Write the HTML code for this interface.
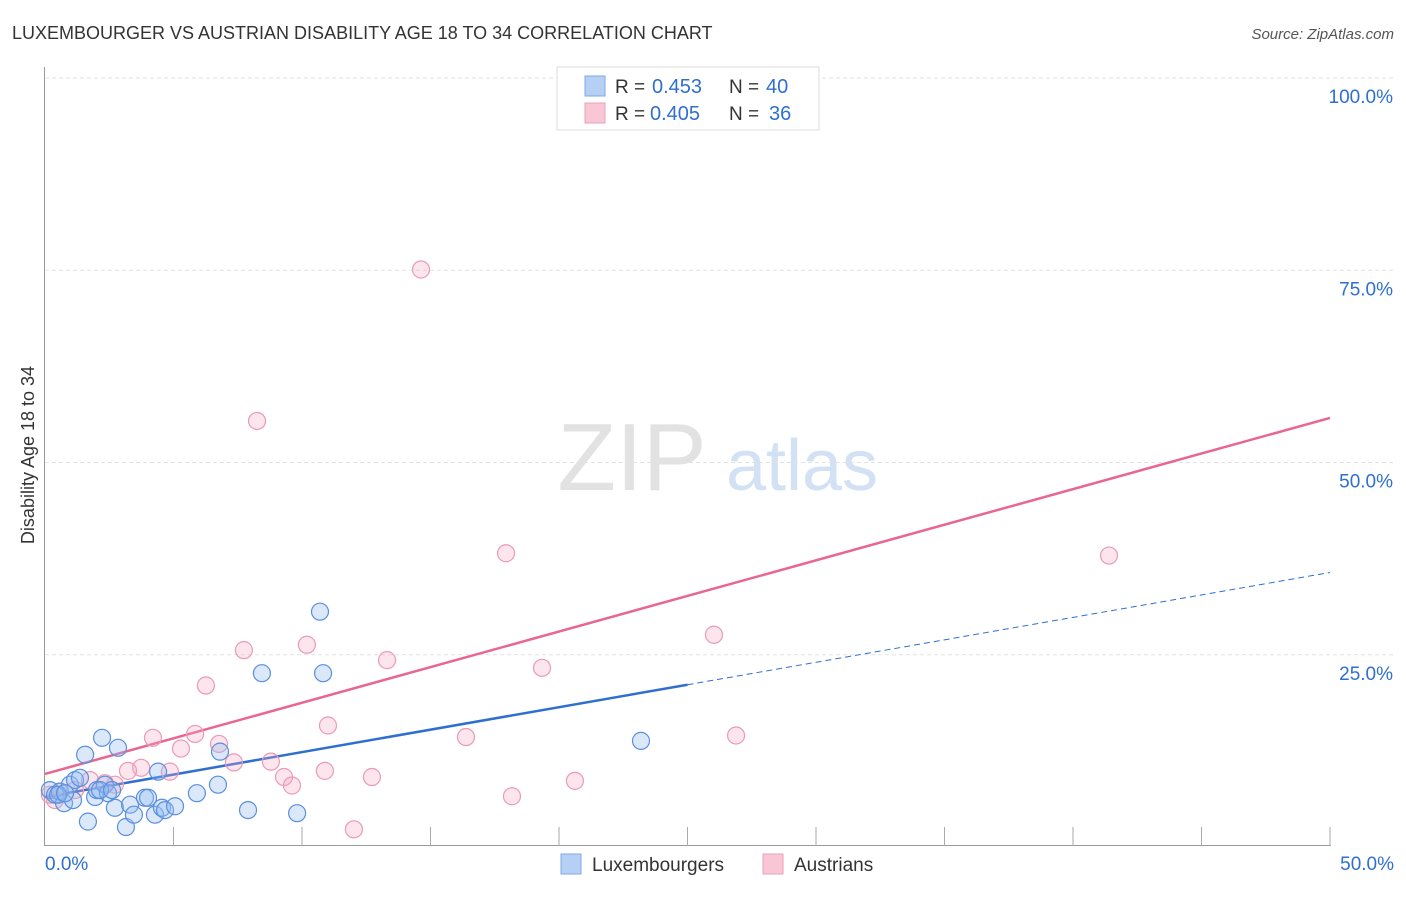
<!DOCTYPE html>
<html><head><meta charset="utf-8"><style>
body{margin:0;background:#fff;font-family:"Liberation Sans",sans-serif}
svg text{font-family:"Liberation Sans",sans-serif}
</style></head><body>
<svg width="1406" height="892" xmlns="http://www.w3.org/2000/svg">
<text x="12" y="39" font-size="18" fill="#333">LUXEMBOURGER VS AUSTRIAN DISABILITY AGE 18 TO 34 CORRELATION CHART</text>
<text x="1394" y="39" font-size="15" fill="#555" text-anchor="end" font-style="italic">Source: ZipAtlas.com</text>
<g>
<text x="632" y="490" font-size="96" fill="#e2e2e2" font-family="Liberation Serif,serif" text-anchor="middle">ZIP</text>
<text x="802" y="490" font-size="72" fill="#d3e1f5" text-anchor="middle">atlas</text>
</g>
<g id="grid"></g>
<g id="axes"></g>
<text transform="translate(34,455) rotate(-90)" font-size="18" fill="#333" text-anchor="middle">Disability Age 18 to 34</text>
<g id="lines"></g>
<g id="pts"></g>
<g>
<rect x="557" y="67" width="262" height="63" fill="#fff" stroke="#ddd"/>
<rect x="585" y="76" width="20" height="20" fill="#b5cff5" stroke="#7fa8e6"/>
<rect x="585" y="103" width="20" height="20" fill="#f8c6d5" stroke="#eaa0b8"/>
<text x="615" y="93" font-size="19" fill="#333">R =</text>
<text x="652" y="93" font-size="20" fill="#2f6fd0">0.453</text>
<text x="729" y="93" font-size="19" fill="#333">N =</text>
<text x="766" y="93" font-size="20" fill="#2f6fd0">40</text>
<text x="615" y="120" font-size="19" fill="#333">R =</text>
<text x="650" y="120" font-size="20" fill="#2f6fd0">0.405</text>
<text x="729" y="120" font-size="19" fill="#333">N =</text>
<text x="769" y="120" font-size="20" fill="#2f6fd0">36</text>
</g>
<g>
<rect x="561" y="854" width="20" height="20" fill="#b5cff5" stroke="#7fa8e6"/>
<text x="592" y="871" font-size="19" fill="#333">Luxembourgers</text>
<rect x="763" y="854" width="20" height="20" fill="#f8c6d5" stroke="#eaa0b8"/>
<text x="794" y="871" font-size="19" fill="#333">Austrians</text>
</g>
</svg>
<script>
const xTickLabels=["0.0%","50.0%"];
const yTicks=[25,50,75,100];
const yTickLabels=["25.0%","50.0%","75.0%","100.0%"];
const blueX=[0.19,0.39,0.58,0.74,0.97,1.09,1.17,1.36,1.56,1.67,1.95,2.02,2.22,2.33,2.45,2.72,2.84,3.15,3.31,3.46,3.89,4.01,4.28,4.40,4.55,4.67,5.06,5.91,6.73,6.81,7.90,8.44,9.81,10.70,10.82,23.19,0.51,0.78,2.14,2.61];
const blueY=[7.4,6.8,7.2,5.7,8.1,6.1,8.7,9.0,12.0,3.3,6.5,7.4,14.2,8.1,7.0,5.1,12.9,2.6,5.5,4.2,6.4,6.4,4.2,9.8,5.1,4.8,5.3,7.0,8.1,12.4,4.8,22.6,4.4,30.6,22.6,13.8,6.8,7.0,7.4,7.4];
const pinkX=[14.63,8.25,17.94,41.40,26.03,10.19,7.74,13.31,19.34,6.26,11.01,5.84,4.20,16.38,26.89,5.29,6.77,7.35,8.79,3.74,4.86,3.23,10.89,9.30,12.72,9.61,20.62,18.17,12.02,2.33,2.72,1.75,0.58,0.19,1.17,0.39];
const pinkY=[75.1,55.4,38.2,37.9,27.6,26.3,25.6,24.3,23.3,21.0,15.8,14.7,14.2,14.3,14.5,12.8,13.4,11.0,11.1,10.3,9.8,9.9,9.9,9.1,9.1,8.0,8.6,6.6,2.3,8.3,8.1,8.7,7.2,6.8,7.4,6.1];
const blueTrend=[6.5,21.1]; // value at x=0 and x=25
const pinkTrend=[9.5,55.8]; // value at x=0 and x=50
const NS="http://www.w3.org/2000/svg";
const X=v=>45+v*25.7, Y=v=>847-v*7.69;
function mk(p,t,a){const e=document.createElementNS(NS,t);for(const k in a)e.setAttribute(k,a[k]);p.appendChild(e);return e;}
const grid=document.getElementById('grid'),axes=document.getElementById('axes');
yTicks.forEach((t,i)=>{
 const l=mk(grid,'line',{x1:45,x2:1394,y1:Y(t),y2:Y(t),stroke:'#e2e2e2','stroke-dasharray':'4,3'});
 
 
 const tx=mk(grid,'text',{x:1393,y:Y(t)+25,'font-size':19,fill:'#2f6fd0','text-anchor':'end'});
 tx.textContent=yTickLabels[i];
 
 
});
const ya=mk(axes,'line',{x1:44.5,x2:44.5,y1:67,y2:846,stroke:'#999'});


const xa=mk(axes,'line',{x1:44,x2:1331,y1:845.5,y2:845.5,stroke:'#999'});


for(let i=1;i<=10;i++){const t=mk(axes,'line',{x1:X(i*5),x2:X(i*5),y1:827,y2:846,stroke:'#aaa'});
 
 }
[[0,'start',45],[50,'end',1394]].forEach((d,i)=>{const t=mk(axes,'text',{x:d[2],y:870,'font-size':19,fill:'#2f6fd0','text-anchor':d[1]});t.textContent=xTickLabels[i];
 
 });
const lines=document.getElementById('lines');
const bs=(blueTrend[1]-blueTrend[0])/25;
const b1=mk(lines,'line',{x1:X(0),y1:Y(blueTrend[0]),x2:X(25),y2:Y(blueTrend[1]),stroke:'#2f6fd0','stroke-width':2.5});


const b2=mk(lines,'line',{x1:X(25),y1:Y(blueTrend[1]),x2:X(50),y2:Y(blueTrend[0]+bs*50),stroke:'#2f6fd0','stroke-width':1,'stroke-dasharray':'6,4'});


const p1=mk(lines,'line',{x1:X(0),y1:Y(pinkTrend[0]),x2:X(50),y2:Y(pinkTrend[1]),stroke:'#e8668f','stroke-width':2.5});


const pts=document.getElementById('pts');
pinkX.forEach((x,i)=>{const c=mk(pts,'circle',{cx:X(x),cy:Y(pinkY[i]),r:8.5,fill:'rgba(245,170,195,0.3)',stroke:'#eb9ab5','stroke-width':1.2});
 
 });
blueX.forEach((x,i)=>{const c=mk(pts,'circle',{cx:X(x),cy:Y(blueY[i]),r:8.5,fill:'rgba(150,190,240,0.35)',stroke:'#5b8fde','stroke-width':1.2});
 
 });
</script>
</body></html>
